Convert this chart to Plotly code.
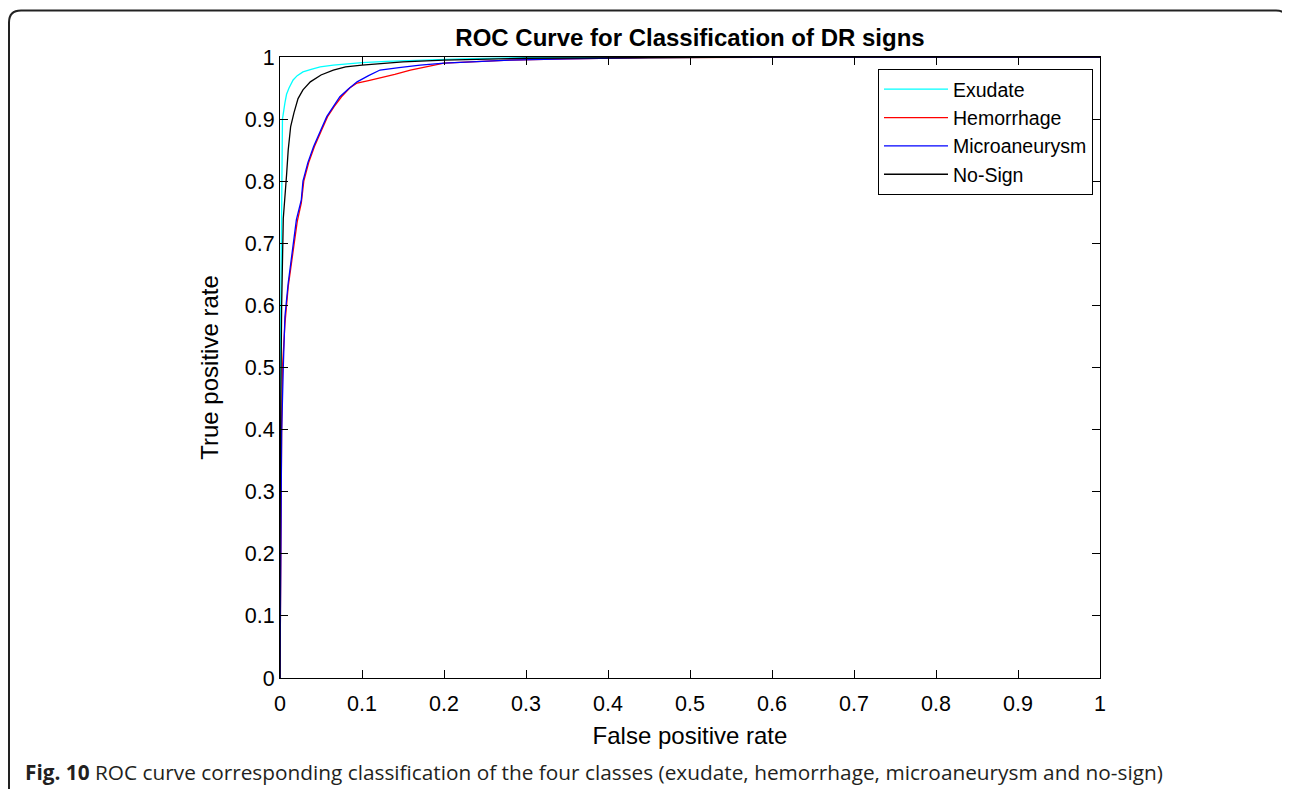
import plotly.graph_objects as go

# ---- data ----
series_names = ["Exudate", "Hemorrhage", "Microaneurysm", "No-Sign"]
series_colors = ["#00FFFF", "#FF0000", "#0000FF", "#000000"]

exudate_fpr = [0, 0, 0.001, 0.002, 0.0025, 0.003, 0.006, 0.008, 0.011, 0.016, 0.021, 0.028,
               0.038, 0.049, 0.065, 0.08, 0.1, 0.13, 0.17, 0.22, 0.3, 0.45, 0.7, 1.0]
exudate_tpr = [0, 0.3, 0.6, 0.74, 0.82, 0.9, 0.926, 0.94, 0.95, 0.963, 0.97, 0.976,
               0.98, 0.984, 0.987, 0.989, 0.991, 0.993, 0.995, 0.997, 0.999, 1.0, 1.0, 1.0]

hemorrhage_fpr = [0, 0.001, 0.002, 0.003, 0.006, 0.01, 0.016, 0.021, 0.026, 0.029, 0.035,
                  0.042, 0.05, 0.058, 0.066, 0.075, 0.085, 0.094, 0.108, 0.122, 0.14,
                  0.159, 0.18, 0.2, 0.232, 0.28, 0.35, 0.45, 0.7, 1.0]
hemorrhage_tpr = [0, 0.25, 0.4, 0.5, 0.57, 0.63, 0.69, 0.735, 0.765, 0.8, 0.83,
                  0.856, 0.88, 0.904, 0.92, 0.936, 0.95, 0.958, 0.962, 0.966, 0.972,
                  0.979, 0.985, 0.99, 0.992, 0.995, 0.997, 0.999, 1.0, 1.0]

micro_fpr = [0, 0.001, 0.002, 0.004, 0.006, 0.01, 0.016, 0.02, 0.026, 0.028, 0.034,
             0.041, 0.049, 0.057, 0.065, 0.073, 0.083, 0.094, 0.108, 0.122, 0.145,
             0.171, 0.2, 0.232, 0.28, 0.35, 0.45, 0.65, 1.0]
micro_tpr = [0, 0.3, 0.395, 0.5, 0.582, 0.636, 0.7, 0.738, 0.77, 0.8, 0.83,
             0.856, 0.88, 0.904, 0.92, 0.936, 0.948, 0.96, 0.97, 0.979, 0.983,
             0.987, 0.99, 0.992, 0.995, 0.997, 0.999, 1.0, 1.0]

nosign_fpr = [0, 0, 0.001, 0.002, 0.004, 0.006, 0.008, 0.01, 0.013, 0.017, 0.022, 0.028,
              0.037, 0.05, 0.065, 0.08, 0.1, 0.15, 0.2, 0.3, 0.4, 0.6, 1.0]
nosign_tpr = [0, 0.22, 0.45, 0.6, 0.74, 0.77, 0.81, 0.85, 0.888, 0.91, 0.933, 0.947,
              0.96, 0.971, 0.979, 0.984, 0.987, 0.992, 0.995, 0.998, 0.999, 1.0, 1.0]

tick_vals = [0, 0.1, 0.2, 0.3, 0.4, 0.5, 0.6, 0.7, 0.8, 0.9, 1]
tick_text = ["0", "0.1", "0.2", "0.3", "0.4", "0.5", "0.6", "0.7", "0.8", "0.9", "1"]

title_text = "ROC Curve for Classification of DR signs"
x_title = "False positive rate"
y_title = "True positive rate"
caption_bold = "Fig. 10"
caption_text = " ROC curve corresponding classification of the four classes (exudate, hemorrhage, microaneurysm and no-sign)"

# ---- figure ----
FONT = "Liberation Sans, Arial, Helvetica, sans-serif"
fig = go.Figure()
all_x = [exudate_fpr, hemorrhage_fpr, micro_fpr, nosign_fpr]
all_y = [exudate_tpr, hemorrhage_tpr, micro_tpr, nosign_tpr]
for name, color, xs, ys in zip(series_names, series_colors, all_x, all_y):
    fig.add_trace(go.Scatter(x=xs, y=ys, mode="lines", name=name,
                             line=dict(color=color, width=1.3)))

OFF = 8  # page body margin
W, H = 1290 - OFF, 789 - OFF
L, R, T, B = 280 - OFF, 190, 57 - OFF, 111
pw, ph = W - L - R, H - T - B

def px_x(p):  # reference screen px -> paper x
    return (p - OFF - L) / pw

def px_y(p):  # reference screen px -> paper y
    return (H - B - (p - OFF)) / ph

axis_common = dict(
    range=[0, 1], tickvals=tick_vals, ticktext=tick_text,
    ticks="inside", ticklen=8, tickwidth=1, tickcolor="black",
    showline=True, linecolor="black", linewidth=1, mirror="ticks",
    showgrid=False, zeroline=False,
    tickfont=dict(family=FONT, size=21.5, color="black"),
)

fig.update_layout(
    width=W, height=H,
    margin=dict(l=L, r=R, t=T, b=B, pad=0),
    paper_bgcolor="white", plot_bgcolor="white",
    xaxis=dict(**axis_common, ticklabelstandoff=6,
               title=dict(text=x_title, font=dict(family=FONT, size=24, color="black"), standoff=12)),
    yaxis=dict(**axis_common,
               title=dict(text=y_title, font=dict(family=FONT, size=24, color="black"), standoff=19)),
    title=dict(text="<b>" + title_text + "</b>", x=(L + pw / 2) / W, xref="container",
               y=1 - (38 - OFF) / H, yref="container", yanchor="middle", xanchor="center",
               font=dict(family=FONT, size=24, color="black")),
    legend=dict(x=px_x(1093), y=px_y(69), xanchor="right", yanchor="top",
                bgcolor="white", bordercolor="black", borderwidth=1,
                font=dict(family=FONT, size=19.5, color="black"),
                itemwidth=64, tracegroupgap=0),
    showlegend=True,
)

# caption
fig.add_annotation(xref="paper", yref="paper", x=px_x(23), y=px_y(772),
                   xanchor="left", yanchor="middle", showarrow=False,
                   text="<b>" + caption_bold + "</b>" + caption_text,
                   font=dict(family="Open Sans, Noto Sans, sans-serif", size=20.8, color="#231f20"))

# rounded frame
xl, xr = px_x(9), px_x(1288)
yt = px_y(10.5)
yb = px_y(820)
rx, ry = 12 / pw, 12 / ph
path = (f"M {xl},{yb} L {xl},{yt - ry} Q {xl},{yt} {xl + rx},{yt} "
        f"L {xr - rx},{yt} Q {xr},{yt} {xr},{yt - ry}")
fig.add_shape(type="path", xref="paper", yref="paper", path=path,
              line=dict(color="#222", width=2))

fig.write_html("out.html")
